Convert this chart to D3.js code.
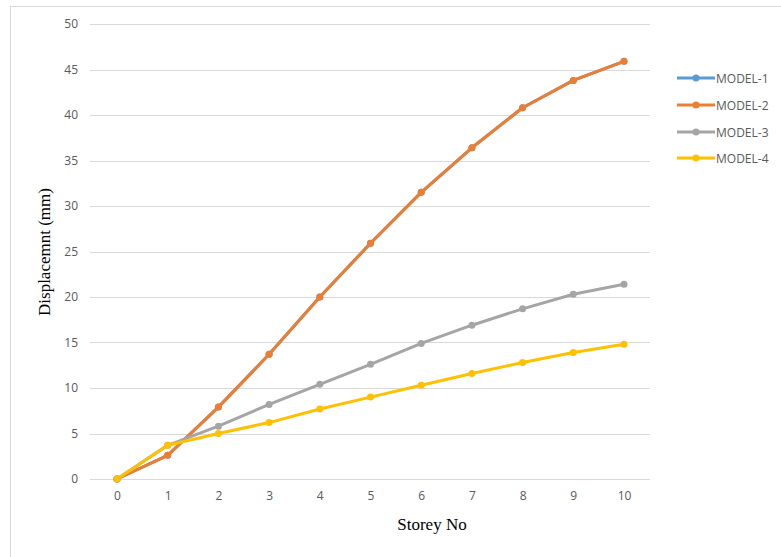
<!DOCTYPE html>
<html><head><meta charset="utf-8">
<script src="https://cdn.jsdelivr.net/npm/d3@7"></script>
<style>body{margin:0;background:#fff}svg{display:block}</style>
</head><body>
<svg id="c" width="781" height="557"></svg>
<script>
const storeys = [0,1,2,3,4,5,6,7,8,9,10];
const yTicks = [0,5,10,15,20,25,30,35,40,45,50];
const model1 = [0,2.6,7.9,13.7,20.0,25.9,31.5,36.4,40.8,43.8,45.9];
const model2 = [0,2.6,7.9,13.7,20.0,25.9,31.5,36.4,40.8,43.8,45.9];
const model3 = [0,3.7,5.8,8.2,10.4,12.6,14.9,16.9,18.7,20.3,21.4];
const model4 = [0,3.7,5.0,6.2,7.7,9.0,10.3,11.6,12.8,13.9,14.8];
const seriesNames = ["MODEL-1","MODEL-2","MODEL-3","MODEL-4"];
const seriesColors = ["#5B9BD5","#ED7D31","#A5A5A5","#FFC000"];
const seriesData = [model1, model2, model3, model4];

const svg = d3.select("#c");
svg.append("rect").attr("x",10.5).attr("y",6.5).attr("width",800).attr("height",600)
  .attr("fill","#fff").attr("stroke","#d9d9d9").attr("stroke-width",1);

const x = d3.scaleLinear().domain([0,10]).range([117,624]);
const y = d3.scaleLinear().domain([0,50]).range([479,24]);
const gridX0 = 90, gridX1 = 650;

// gridlines
svg.append("g").selectAll("line").data(yTicks).join("line")
  .attr("x1",gridX0).attr("x2",gridX1)
  .attr("y1",d=>Math.round(y(d))+0.5).attr("y2",d=>Math.round(y(d))+0.5)
  .attr("stroke","#d9d9d9").attr("stroke-width",1);

// y axis labels
const yAxis = d3.axisLeft(y).tickValues(yTicks).tickSize(0).tickPadding(0);
const gy = svg.append("g").attr("transform",`translate(${gridX0-12},0)`).call(yAxis);
gy.select(".domain").remove();
gy.selectAll("text").attr("font-family","Open Sans, Liberation Sans, sans-serif")
  .attr("font-size",12).attr("fill","#595959");

// x axis labels
const xAxis = d3.axisBottom(x).tickValues(storeys).tickSize(0).tickPadding(0);
const gx = svg.append("g").attr("transform",`translate(0,${y(0)+12})`).call(xAxis);
gx.select(".domain").remove();
gx.selectAll("text").attr("font-family","Open Sans, Liberation Sans, sans-serif")
  .attr("font-size",12).attr("fill","#595959");

// axis titles
svg.append("text").attr("x",432).attr("y",530).attr("text-anchor","middle")
  .attr("font-family","Liberation Serif, Times New Roman, serif").attr("font-size",17)
  .attr("fill","#000").text("Storey No");
svg.append("text").attr("transform","translate(50,252) rotate(-90)").attr("text-anchor","middle")
  .attr("font-family","Liberation Serif, Times New Roman, serif").attr("font-size",17)
  .attr("fill","#000").text("Displacemnt (mm)");

// lines
const line = d3.line().x((d,i)=>x(storeys[i])).y(d=>y(d));
seriesData.forEach((s,k)=>{
  const g = svg.append("g");
  g.append("path").datum(s).attr("d",line).attr("fill","none")
    .attr("stroke",seriesColors[k]).attr("stroke-width",3).attr("stroke-linejoin","round").attr("stroke-linecap","round");
  g.selectAll("circle").data(s).join("circle")
    .attr("cx",(d,i)=>x(storeys[i])).attr("cy",d=>y(d)).attr("r",3.5)
    .attr("fill",seriesColors[k]);
});

// legend
const legY = [78,105,132,158];
seriesNames.forEach((n,k)=>{
  const g = svg.append("g").attr("transform",`translate(677,${legY[k]})`);
  g.append("line").attr("x1",0).attr("x2",38).attr("y1",0).attr("y2",0)
    .attr("stroke",seriesColors[k]).attr("stroke-width",3);
  g.append("circle").attr("cx",19).attr("cy",0).attr("r",3.5).attr("fill",seriesColors[k]);
  g.append("text").attr("x",39).attr("y",4.5).attr("font-family","Open Sans, Liberation Sans, sans-serif")
    .attr("font-size",12).attr("fill","#595959").text(n);
});
</script>
</body></html>
